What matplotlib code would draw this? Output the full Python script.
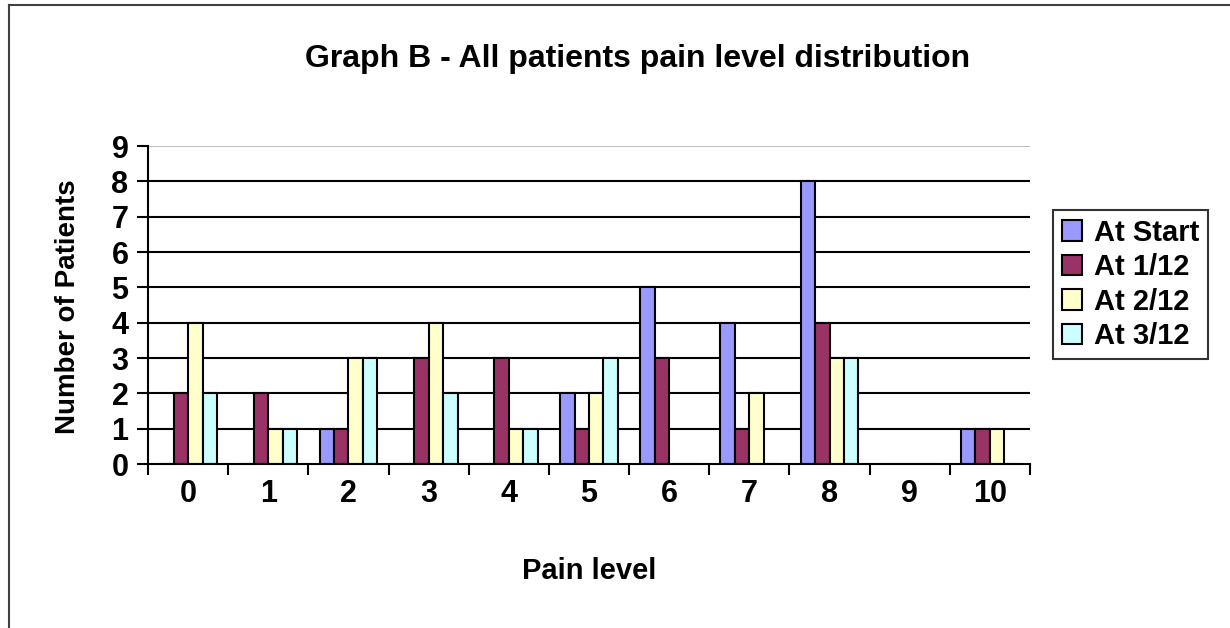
import matplotlib.pyplot as plt
import numpy as np
from matplotlib.lines import Line2D

plt.rcParams['font.family'] = ['Liberation Sans', 'DejaVu Sans']
plt.rcParams['font.weight'] = 'bold'

pain_levels = ['0', '1', '2', '3', '4', '5', '6', '7', '8', '9', '10']
at_start = [0, 0, 1, 0, 0, 2, 5, 4, 8, 0, 1]
at_1_12 = [2, 2, 1, 3, 3, 1, 3, 1, 4, 0, 1]
at_2_12 = [4, 1, 3, 4, 1, 2, 0, 2, 3, 0, 1]
at_3_12 = [2, 1, 3, 2, 1, 3, 0, 0, 3, 0, 0]
series_names = ['At Start', 'At 1/12', 'At 2/12', 'At 3/12']
colors = ['#9999FF', '#993366', '#FFFFCC', '#CCFFFF']

W, H = 1230, 628
fig = plt.figure(figsize=(W / 100, H / 100), dpi=100)
ax = fig.add_axes([148 / W, 1 - 464 / H, (1030 - 148) / W, (464 - 146) / H])

# cadre du graphique
fig.add_artist(Line2D([9 / W, 9 / W], [0, 1 - 5 / H], color='#404040', lw=1.5, transform=fig.transFigure))
fig.add_artist(Line2D([9 / W, 1], [1 - 5 / H, 1 - 5 / H], color='#404040', lw=1.5, transform=fig.transFigure))

x = np.arange(len(pain_levels))
bw = 0.18
series = [at_start, at_1_12, at_2_12, at_3_12]
for i in range(4):
    ax.bar(x + (i - 1.5) * bw, series[i], bw, color=colors[i], edgecolor='black',
           linewidth=1.5, label=series_names[i], zorder=3)

for yv in range(1, 9):
    ax.axhline(yv, color='black', lw=1.5, zorder=1)
ax.axhline(9, color='#C0C0C0', lw=1.5, zorder=1)

ax.set_xlim(-0.5, 10.5)
ax.set_ylim(0, 9)
ax.set_yticks(range(0, 10))
ax.set_xticks(np.arange(-0.5, 11, 1))
ax.set_xticklabels([])
ax.set_xticks(x, minor=True)
ax.set_xticklabels(pain_levels, minor=True)
ax.tick_params(axis='x', which='major', direction='out', length=8, width=1.5, color='black')
ax.tick_params(axis='x', which='minor', length=0, pad=11, labelsize=22)
ax.tick_params(axis='y', direction='out', length=8, width=1.5, labelsize=22, pad=6)

for s in ['top', 'right']:
    ax.spines[s].set_visible(False)
ax.spines['left'].set_linewidth(1.5)
ax.spines['bottom'].set_linewidth(1.5)
ax.spines['left'].set_zorder(4)
ax.spines['bottom'].set_zorder(4)

fig.text(638 / W, 1 - 59 / H, 'Graph B - All patients pain level distribution',
         ha='center', va='center', fontsize=23, fontweight='bold')
fig.text(589 / W, 1 - 571 / H, 'Pain level', ha='center', va='center', fontsize=21, fontweight='bold')
fig.text(68 / W, 1 - 307 / H, 'Number of Patients', ha='center', va='center',
         rotation=90, fontsize=20, fontweight='bold')

leg = fig.legend(loc='upper left', bbox_to_anchor=(1053 / W, 1 - 210 / H), fontsize=21,
                 frameon=True, fancybox=False, handlelength=0.7, handleheight=0.7,
                 handletextpad=0.4, labelspacing=0.22, borderpad=0.3, borderaxespad=0)
leg.get_frame().set_edgecolor('black')
leg.get_frame().set_linewidth(1.5)

plt.savefig('out.png', dpi=100)
